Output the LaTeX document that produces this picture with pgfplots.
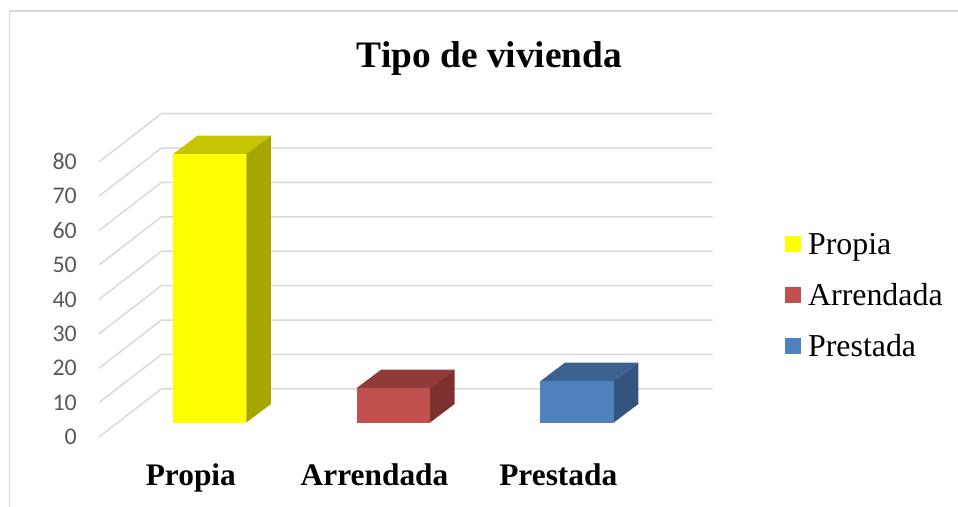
\documentclass[border=0pt]{standalone}
\usepackage{pgfplots}
\pgfplotsset{compat=1.18}
\usepackage{fontspec}
\setmainfont{Liberation Serif}
\newfontfamily\calibri{Carlito}
\definecolor{gridc}{RGB}{217,217,217}
\definecolor{tickc}{RGB}{89,89,89}
\definecolor{yfront}{RGB}{255,255,0}
\definecolor{ytop}{RGB}{198,198,0}
\definecolor{yside}{RGB}{166,166,0}
\definecolor{rfront}{RGB}{192,80,77}
\definecolor{rtop}{RGB}{145,59,57}
\definecolor{rside}{RGB}{125,48,46}
\definecolor{bfront}{RGB}{79,129,189}
\definecolor{btop}{RGB}{59,98,144}
\definecolor{bside}{RGB}{50,84,126}

% #1 category centre, #2 value, #3 front, #4 top, #5 side colour
\newcommand{\threedbar}[5]{%
 \pgfmathsetmacro\xl{#1-0.098}%
 \pgfmathsetmacro\xr{#1+0.302}%
 \pgfmathsetmacro\xlb{#1+0.036}%
 \pgfmathsetmacro\xrb{#1+0.436}%
 \pgfmathsetmacro\yt{#2+4.2}%
 \pgfmathsetmacro\ytb{#2+9.6}%
 \edef\tmp{%
 \noexpand\addplot[fill=#4,draw=none,forget plot] coordinates {(\xl,\yt) (\xr,\yt) (\xrb,\ytb) (\xlb,\ytb)} -- cycle;%
 \noexpand\addplot[fill=#5,draw=none,forget plot] coordinates {(\xr,4.2) (\xrb,9.6) (\xrb,\ytb) (\xr,\yt)} -- cycle;%
 \noexpand\addplot[fill=#3,draw=none] coordinates {(\xl,4.2) (\xr,4.2) (\xr,\yt) (\xl,\yt)} -- cycle;%
 }\tmp}

\begin{document}
\begin{tikzpicture}
\path[use as bounding box] (0,0) rectangle (958bp,-507bp);
\draw[gridc, line width=1.5bp] (9.5bp,-507bp) -- (9.5bp,-11bp) -- (958bp,-11bp);
\begin{axis}[
 at={(99bp,-437bp)}, anchor=south west,
 x=183.7bp, y=3.44bp,
 xmin=0, xmax=3.34, ymin=0, ymax=94,
 enlargelimits=false, clip=false,
 axis line style={draw=none}, major tick length=0pt,
 xtick={0.5,1.5,2.5}, xticklabels={Propia,Arrendada,Prestada},
 ytick={0,10,...,80},
 /pgf/number format/assume math mode=true,
 yticklabel style={font=\calibri\fontsize{24}{28}\selectfont, color=tickc, anchor=east, inner sep=0pt, xshift=-22bp},
 xticklabel style={font=\bfseries\fontsize{31.5}{36}\selectfont, anchor=base, inner sep=0pt, yshift=-48bp},
 legend image code/.code={\fill[#1] (0bp,2bp) rectangle (16bp,18bp);},
 legend style={at={(axis cs:3.734,59.6)}, anchor=north west, draw=none, fill=none, inner sep=0pt,
   font=\fontsize{32}{37}\selectfont, row sep=23bp,
   nodes={inner sep=0pt, text height=22bp, text depth=6bp},
   cells={anchor=base west},
   /tikz/every odd column/.append style={column sep=7bp}},
]
% gridlines: front-left diagonal and back wall
\addplot[gridc, line width=1.5bp, forget plot] coordinates {(0,0) (0.34,14) (3.34,14)};
\addplot[gridc, line width=1.5bp, forget plot] coordinates {(0,10) (0.34,24) (3.34,24)};
\addplot[gridc, line width=1.5bp, forget plot] coordinates {(0,20) (0.34,34) (3.34,34)};
\addplot[gridc, line width=1.5bp, forget plot] coordinates {(0,30) (0.34,44) (3.34,44)};
\addplot[gridc, line width=1.5bp, forget plot] coordinates {(0,40) (0.34,54) (3.34,54)};
\addplot[gridc, line width=1.5bp, forget plot] coordinates {(0,50) (0.34,64) (3.34,64)};
\addplot[gridc, line width=1.5bp, forget plot] coordinates {(0,60) (0.34,74) (3.34,74)};
\addplot[gridc, line width=1.5bp, forget plot] coordinates {(0,70) (0.34,84) (3.34,84)};
\addplot[gridc, line width=1.5bp, forget plot] coordinates {(0,80) (0.34,94) (3.34,94)};
% bars: Propia 78, Arrendada 10, Prestada 12
\threedbar{0.5}{78}{yfront}{ytop}{yside}
\addlegendentry{Propia}
\threedbar{1.5}{10}{rfront}{rtop}{rside}
\addlegendentry{Arrendada}
\threedbar{2.5}{12}{bfront}{btop}{bside}
\addlegendentry{Prestada}
\end{axis}
\node[anchor=base, font=\bfseries\fontsize{37.5}{44}\selectfont] at (489.5bp,-67bp) {Tipo de vivienda};
\end{tikzpicture}
\end{document}
